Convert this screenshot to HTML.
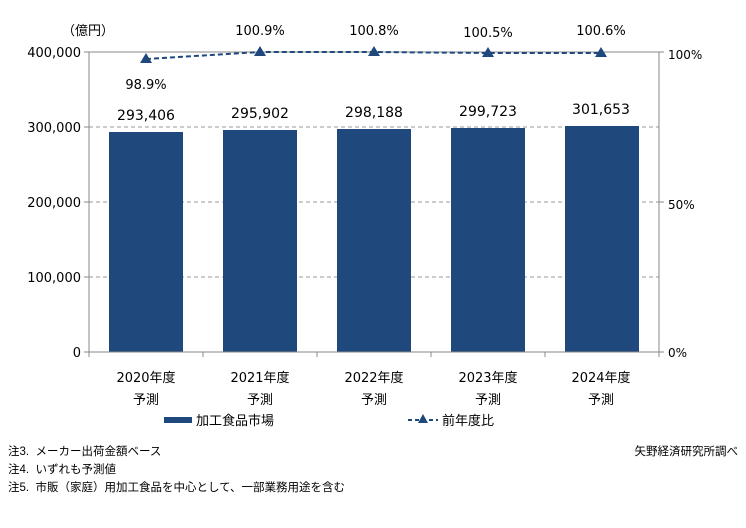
<!DOCTYPE html>
<html><head><meta charset="utf-8"><style>
body{margin:0;background:#fff;}
svg text{font-family:"DejaVu Sans","Noto Sans CJK JP",sans-serif;fill:#000;}
svg text.j{font-family:"Liberation Sans","Noto Sans CJK JP",sans-serif;}
</style></head><body>
<svg width="746" height="523" xmlns="http://www.w3.org/2000/svg">
<rect width="746" height="523" fill="#fff"/>
<text x="62" y="35" font-size="13" class="j">（億円）</text>
<line x1="89" y1="52" x2="659" y2="52" stroke="#888" stroke-width="1"/>
<g stroke="#999" stroke-dasharray="4,3" stroke-width="1">
<line x1="89" y1="127" x2="659" y2="127"/>
<line x1="89" y1="202" x2="659" y2="202"/>
<line x1="89" y1="277" x2="659" y2="277"/>
</g>
<g fill="#1F497D">
<rect x="109" y="132" width="74" height="220"/>
<rect x="223" y="130" width="74" height="222"/>
<rect x="337" y="129" width="74" height="223"/>
<rect x="451" y="128" width="74" height="224"/>
<rect x="565" y="126" width="74" height="226"/>
</g>
<g stroke="#888" stroke-width="1">
<line x1="89" y1="52" x2="89" y2="352"/>
<line x1="659" y1="52" x2="659" y2="352"/>
<line x1="84" y1="352" x2="664" y2="352"/>
<line x1="84" y1="52" x2="89" y2="52"/><line x1="84" y1="127" x2="89" y2="127"/><line x1="84" y1="202" x2="89" y2="202"/><line x1="84" y1="277" x2="89" y2="277"/>
<line x1="659" y1="52" x2="664" y2="52"/><line x1="659" y1="202" x2="664" y2="202"/>
<line x1="89" y1="352" x2="89" y2="357"/><line x1="203" y1="352" x2="203" y2="357"/><line x1="317" y1="352" x2="317" y2="357"/><line x1="431" y1="352" x2="431" y2="357"/><line x1="545" y1="352" x2="545" y2="357"/><line x1="659" y1="352" x2="659" y2="357"/>
</g>
<g font-size="13" text-anchor="end">
<text x="81" y="57">400,000</text><text x="81" y="132">300,000</text><text x="81" y="207">200,000</text><text x="81" y="282">100,000</text><text x="81" y="357">0</text>
</g>
<g font-size="12">
<text x="668" y="59">100%</text><text x="668" y="209">50%</text><text x="668" y="357">0%</text>
</g>
<polyline points="146,59 260,52 374,52 488,53 601,53" fill="none" stroke="#1F497D" stroke-width="2" stroke-dasharray="5,3"/>
<g fill="#1F497D">
<polygon points="146,53 152,63 140,63"/><polygon points="260,46 266,56 254,56"/><polygon points="374,46 380,56 368,56"/><polygon points="488,47 494,57 482,57"/><polygon points="601,47 607,57 595,57"/>
</g>
<g font-size="13" text-anchor="middle">
<text x="146" y="89">98.9%</text><text x="260" y="35">100.9%</text><text x="374" y="35">100.8%</text><text x="488" y="37">100.5%</text><text x="601" y="35">100.6%</text>
</g>
<g font-size="14" text-anchor="middle">
<text x="146" y="120">293,406</text><text x="260" y="118">295,902</text><text x="374" y="117">298,188</text><text x="488" y="116">299,723</text><text x="601" y="114">301,653</text>
</g>
<g font-size="13" text-anchor="middle">
<text x="146" y="382">2020年度</text><text x="260" y="382">2021年度</text><text x="374" y="382">2022年度</text><text x="488" y="382">2023年度</text><text x="601" y="382">2024年度</text>
<text x="146" y="404" class="j">予測</text><text x="260" y="404" class="j">予測</text><text x="374" y="404" class="j">予測</text><text x="488" y="404" class="j">予測</text><text x="601" y="404" class="j">予測</text>
</g>
<rect x="164" y="417" width="28" height="6" fill="#1F497D"/>
<text x="196" y="425" font-size="13" class="j">加工食品市場</text>
<line x1="408" y1="420" x2="438" y2="420" stroke="#1F497D" stroke-width="2" stroke-dasharray="4,3"/>
<polygon points="423,414 428,423 418,423" fill="#1F497D"/>
<text x="442" y="425" font-size="13" class="j">前年度比</text>
<g font-size="11.5" class="j">
<text x="8" y="455" class="j">注3.&#160;&#160;メーカー出荷金額ベース</text>
<text x="8" y="473" class="j">注4.&#160;&#160;いずれも予測値</text>
<text x="8" y="491" class="j">注5.&#160;&#160;市販（家庭）用加工食品を中心として、一部業務用途を含む</text>
<text x="738" y="455" text-anchor="end" class="j">矢野経済研究所調べ</text>
</g>
</svg>
</body></html>
